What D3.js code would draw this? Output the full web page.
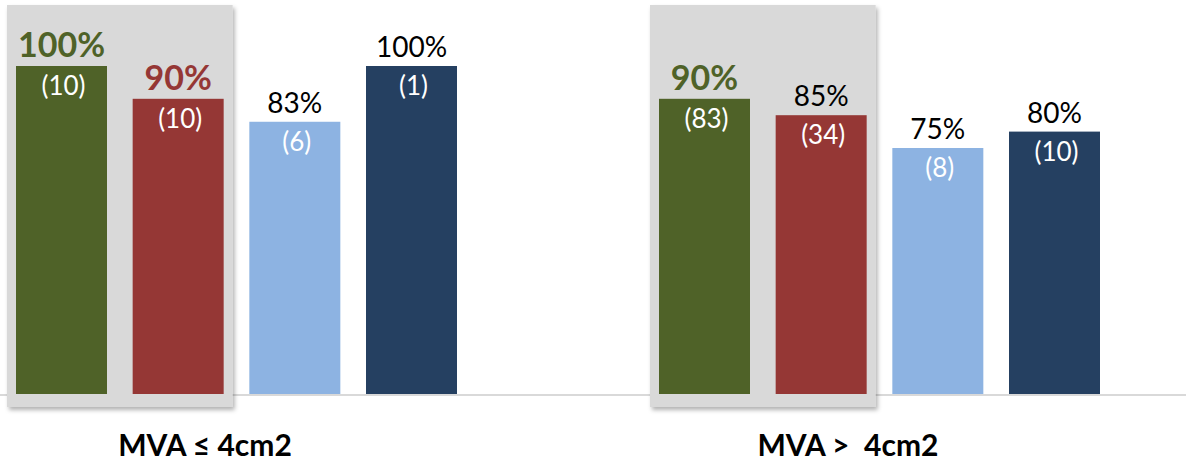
<!DOCTYPE html>
<html>
<head>
<meta charset="utf-8">
<script src="https://cdn.jsdelivr.net/npm/d3@7/dist/d3.min.js"></script>
<style>
  html, body { margin: 0; padding: 0; background: #ffffff; }
  svg { display: block; font-family: Lato, "Open Sans", sans-serif; }
</style>
</head>
<body>
<svg id="chart" width="1186" height="462"></svg>
<script>
// Categories (valve area groups) and the four series within each group
const categories = ["MVA ≤ 4cm2", "MVA >  4cm2"];
const series = ["s1", "s2", "s3", "s4"];
const seriesColors = ["#4f6228", "#953735", "#8db3e2", "#254061"];

// Success rates (%) per category, one value per series
const rates = [
  [100, 90, 83, 100],
  [90, 85, 75, 80]
];
// Patient counts shown under each rate
const counts = [
  [10, 10, 6, 1],
  [83, 34, 8, 10]
];
// Which labels are emphasised (bold, in the bar colour)
const emphasis = [
  [true, true, false, false],
  [true, false, false, false]
];
// Series framed by the grey highlight panel in each group
const highlighted = ["s1", "s2"];

const svg = d3.select("#chart");
const W = 1186, H = 462;
const baseY = 394;

const x0 = d3.scaleBand().domain(categories).range([0, 1286]).padding(0);
const x1 = d3.scaleBand().domain(series).range([16, 457]).paddingInner(0.22).paddingOuter(0);
const y = d3.scaleLinear().domain([0, 100]).range([baseY, 66]);

const defs = svg.append("defs");
const f = defs.append("filter").attr("id", "shadow")
  .attr("x", "-5%").attr("y", "-5%").attr("width", "115%").attr("height", "115%");
f.append("feDropShadow").attr("dx", 2).attr("dy", 3).attr("stdDeviation", 2)
  .attr("flood-color", "#000").attr("flood-opacity", 0.3);

// baseline across the full width
svg.append("line")
  .attr("x1", 0).attr("x2", W)
  .attr("y1", baseY + 1).attr("y2", baseY + 1)
  .attr("stroke", "#d9d9d9").attr("stroke-width", 2);

const groups = svg.selectAll("g.cat")
  .data(categories.map((c, i) => ({ c, i })))
  .join("g")
  .attr("class", "cat")
  .attr("transform", d => `translate(${x0(d.c)},0)`);

// grey highlight panel behind the first two bars
groups.append("rect")
  .attr("x", x1(highlighted[0]) - 9)
  .attr("y", 5)
  .attr("width", x1(highlighted[highlighted.length - 1]) + x1.bandwidth() + 9 - (x1(highlighted[0]) - 9))
  .attr("height", baseY + 13 - 5)
  .attr("fill", "#d9d9d9")
  .attr("filter", "url(#shadow)");

const bars = groups.selectAll("g.bar")
  .data(d => series.map((s, j) => ({
    s, j,
    v: rates[d.i][j],
    n: counts[d.i][j],
    em: emphasis[d.i][j]
  })))
  .join("g").attr("class", "bar");

bars.append("rect")
  .attr("x", d => x1(d.s))
  .attr("y", d => y(d.v))
  .attr("width", x1.bandwidth())
  .attr("height", d => baseY - y(d.v))
  .attr("fill", d => seriesColors[d.j]);

bars.append("text")
  .attr("x", d => x1(d.s) + x1.bandwidth() / 2)
  .attr("y", d => y(d.v) - 9)
  .attr("text-anchor", "middle")
  .attr("font-size", d => d.em ? 34 : 28)
  .attr("font-weight", d => d.em ? "bold" : "normal")
  .attr("fill", d => d.em ? seriesColors[d.j] : "#000")
  .text(d => d.v + "%");

bars.append("text")
  .attr("x", d => x1(d.s) + x1.bandwidth() / 2 + 2)
  .attr("y", d => y(d.v) + 20)
  .attr("dy", "0.35em")
  .attr("text-anchor", "middle")
  .attr("font-size", 26)
  .attr("fill", "#ffffff")
  .text(d => "(" + d.n + ")");

// category labels
groups.append("text")
  .attr("x", 205)
  .attr("y", 456)
  .attr("text-anchor", "middle")
  .attr("font-size", 30)
  .attr("font-weight", "bold")
  .attr("fill", "#000")
  .style("white-space", "pre")
  .text(d => d.c);
</script>
</body>
</html>
